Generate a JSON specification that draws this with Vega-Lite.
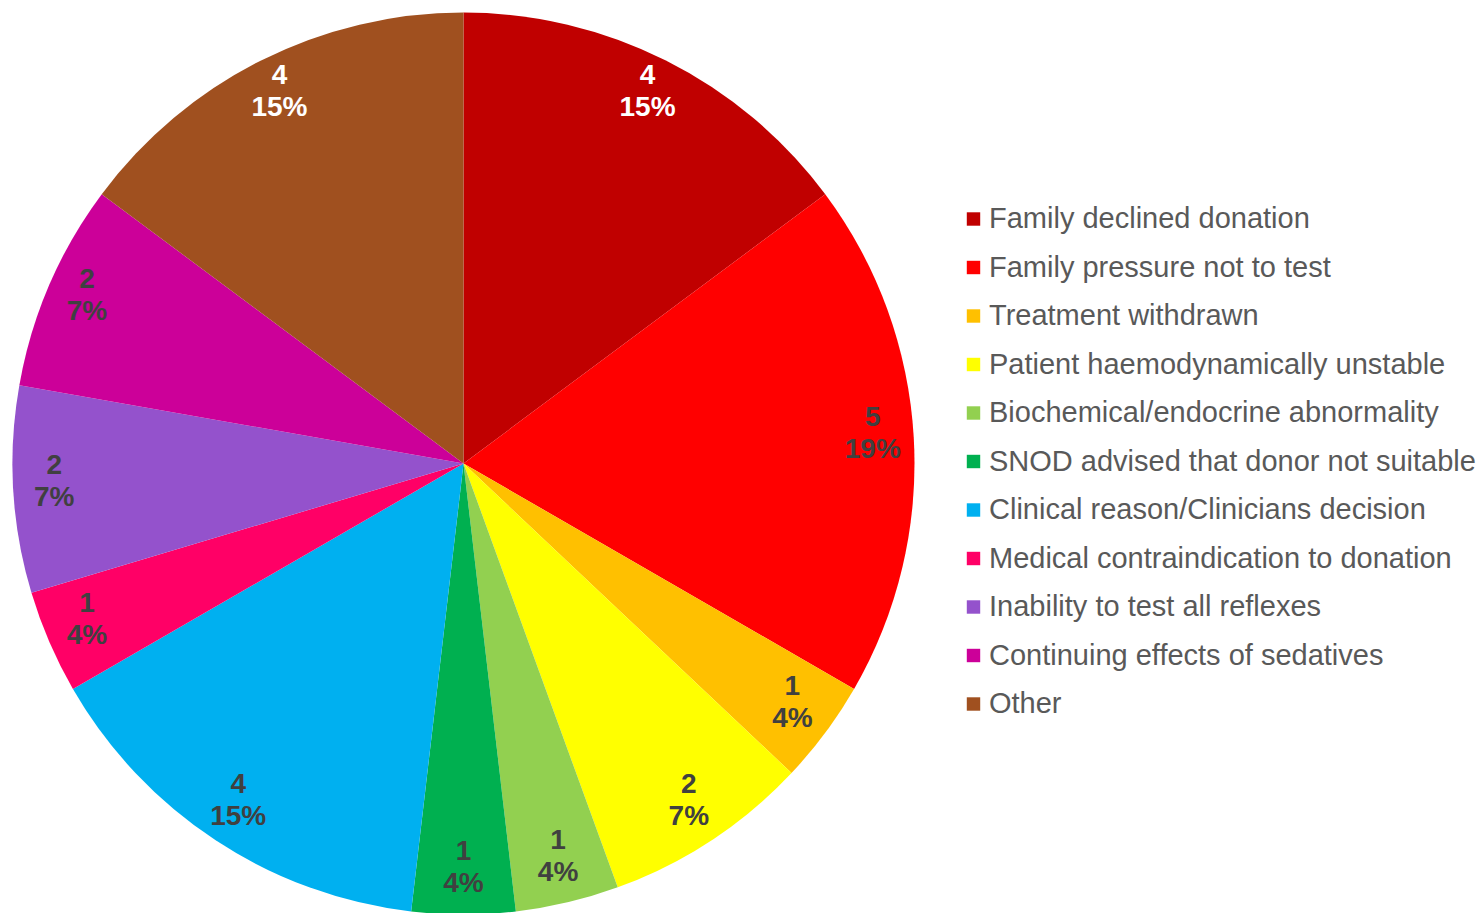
{
  "$schema": "https://vega.github.io/schema/vega-lite/v6.json",
  "autosize": {"type": "none"},
  "width": 927,
  "height": 900,
  "padding": {"left": 0, "top": 13.5, "right": 555, "bottom": 0},
  "background": "white",
  "config": {"view": {"stroke": null}, "font": "Liberation Sans"},
  "data": {
    "values": [
      {"idx": 1, "reason": "Family declined donation", "count": 4, "pct": "15%"},
      {"idx": 2, "reason": "Family pressure not to test", "count": 5, "pct": "19%"},
      {"idx": 3, "reason": "Treatment withdrawn", "count": 1, "pct": "4%"},
      {"idx": 4, "reason": "Patient haemodynamically unstable", "count": 2, "pct": "7%"},
      {"idx": 5, "reason": "Biochemical/endocrine abnormality", "count": 1, "pct": "4%"},
      {"idx": 6, "reason": "SNOD advised that donor not suitable", "count": 1, "pct": "4%"},
      {"idx": 7, "reason": "Clinical reason/Clinicians decision", "count": 4, "pct": "15%"},
      {"idx": 8, "reason": "Medical contraindication to donation", "count": 1, "pct": "4%"},
      {"idx": 9, "reason": "Inability to test all reflexes", "count": 2, "pct": "7%"},
      {"idx": 10, "reason": "Continuing effects of sedatives", "count": 2, "pct": "7%"},
      {"idx": 11, "reason": "Other", "count": 4, "pct": "15%"}
    ]
  },
  "transform": [
    {"calculate": "datum.count + '\\n' + datum.pct", "as": "label"}
  ],
  "encoding": {
    "theta": {"field": "count", "type": "quantitative", "stack": true},
    "order": {"field": "idx", "type": "quantitative"}
  },
  "layer": [
    {
      "mark": {"type": "arc", "radius": 451},
      "encoding": {
        "color": {
          "field": "reason",
          "type": "nominal",
          "sort": {"field": "idx"},
          "scale": {
            "domain": ["Family declined donation", "Family pressure not to test", "Treatment withdrawn", "Patient haemodynamically unstable", "Biochemical/endocrine abnormality", "SNOD advised that donor not suitable", "Clinical reason/Clinicians decision", "Medical contraindication to donation", "Inability to test all reflexes", "Continuing effects of sedatives", "Other"],
            "range": ["#C00000", "#FF0000", "#FFC000", "#FFFF00", "#92D050", "#00B050", "#00B0F0", "#FF0066", "#9452CC", "#CC0099", "#A0501F"]
          },
          "legend": {
            "title": null,
            "orient": "none",
            "legendX": 959,
            "legendY": 191,
            "padding": 0,
            "symbolType": "square",
            "symbolSize": 180,
            "symbolStrokeWidth": 0,
            "labelFontSize": 29,
            "labelFont": "Liberation Sans",
            "labelColor": "#595959",
            "labelOffset": 1,
            "rowPadding": 18.5,
            "labelLimit": 600
          }
        }
      }
    },
    {
      "mark": {"type": "text", "radius": 410, "dy": -21.5, "fontSize": 28, "fontWeight": "bold", "lineBreak": "\n", "lineHeight": 32, "baseline": "middle", "align": "center"},
      "encoding": {
        "text": {"field": "label"},
        "color": {
          "condition": {"test": "datum.reason === 'Family declined donation' || datum.reason === 'Other'", "value": "#FFFFFF"},
          "value": "#404040"
        }
      }
    }
  ]
}
